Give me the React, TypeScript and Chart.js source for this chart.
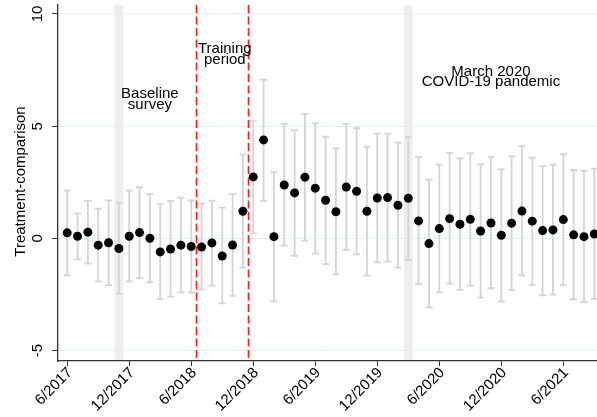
import React, { useEffect, useRef } from "react";
import { Chart, registerables } from "chart.js";

Chart.register(...registerables);

// Monthly estimates, 6/2017 .. 9/2021 (index 0 = 6/2017)
const estimates = [
  0.25, 0.10, 0.28, -0.30, -0.19, -0.45, 0.10, 0.26, 0.01, -0.60, -0.47, -0.30, -0.36, -0.38,
  -0.20, -0.78, -0.29, 1.21, 2.74, 4.39, 0.08, 2.38, 2.03, 2.73, 2.24, 1.70, 1.19,
  2.29, 2.10, 1.21, 1.80, 1.82, 1.48, 1.79, 0.78, -0.23, 0.44, 0.88, 0.63, 0.85, 0.33,
  0.69, 0.14, 0.68, 1.22, 0.77, 0.35, 0.38, 0.84, 0.16, 0.08, 0.20,
];
const ciHigh = [
  2.13, 1.12, 1.67, 1.33, 1.70, 1.60, 2.13, 2.28, 1.97, 1.54, 1.67, 1.82, 1.70, 1.56,
  1.68, 1.37, 1.97, 3.73, 5.23, 7.07, 2.95, 5.11, 4.83, 5.55, 5.13, 4.53, 4.01,
  5.10, 4.91, 4.09, 4.67, 4.67, 4.27, 4.53, 3.62, 2.62, 3.29, 3.81, 3.57, 3.79, 3.30,
  3.63, 3.08, 3.66, 4.11, 3.60, 3.22, 3.29, 3.75, 3.05, 3.01, 3.11,
];
const ciLow = [
  -1.64, -0.93, -1.12, -1.91, -2.08, -2.47, -1.91, -1.77, -1.95, -2.69, -2.59, -2.40, -2.41, -2.27,
  -2.10, -2.89, -2.56, -1.30, 0.23, 1.68, -2.80, -0.32, -0.78, -0.10, -0.68, -1.14, -1.60,
  -0.51, -0.71, -1.66, -1.06, -1.03, -1.30, -0.96, -2.04, -3.07, -2.40, -2.01, -2.29, -2.10, -2.64,
  -2.22, -2.81, -2.29, -1.64, -2.07, -2.53, -2.50, -2.07, -2.71, -2.83, -2.69,
];

const xTickValues = [0, 6, 12, 18, 24, 30, 36, 42, 48];
const xTickLabels = ["6/2017", "12/2017", "6/2018", "12/2018", "6/2019", "12/2019", "6/2020", "12/2020", "6/2021"];
const yTickValues = [-5, 0, 5, 10];
const yTickLabels = ["-5", "0", "5", "10"];
const yTitle = "Treatment-comparison";

// Event markers (month index)
const bandCenters = [5, 33];
const trainingLines = [12.5, 17.5];
const annotations = [
  { lines: ["Baseline", "survey"], x: 8.0, y: 6.2 },
  { lines: ["Training", "period"], x: 15.25, y: 8.2 },
  { lines: ["March 2020", "COVID-19 pandemic"], x: 41.0, y: 7.2 },
];

const FONT = "'Liberation Sans', Arial, sans-serif";

const overlayPlugin = {
  id: "overlay",
  beforeDatasetsDraw(chart: any) {
    const { ctx, chartArea, scales } = chart;
    const { top, bottom, left, right } = chartArea;
    const xs = scales.x;
    const ys = scales.y;
    ctx.save();
    ctx.beginPath();
    ctx.rect(left + 1, top, right - left, bottom - top - 1);
    ctx.clip();

    // grey bands
    ctx.fillStyle = "#eeeeee";
    bandCenters.forEach((c) => {
      const x1 = xs.getPixelForValue(c - 0.43);
      const x2 = xs.getPixelForValue(c + 0.43);
      ctx.fillRect(x1, top, x2 - x1, bottom - top);
    });

    // error bars
    ctx.strokeStyle = "#d4d4d4";
    ctx.lineWidth = 1.8;
    estimates.forEach((_, i) => {
      const px = xs.getPixelForValue(i);
      const yh = ys.getPixelForValue(ciHigh[i]);
      const yl = ys.getPixelForValue(ciLow[i]);
      ctx.beginPath();
      ctx.moveTo(px, yh);
      ctx.lineTo(px, yl);
      ctx.moveTo(px - 3.5, yh);
      ctx.lineTo(px + 3.5, yh);
      ctx.moveTo(px - 3.5, yl);
      ctx.lineTo(px + 3.5, yl);
      ctx.stroke();
    });

    // training period dashed lines
    ctx.strokeStyle = "#ff1a1a";
    ctx.lineWidth = 1.6;
    ctx.setLineDash([8, 3.5]);
    trainingLines.forEach((v) => {
      const px = Math.round(xs.getPixelForValue(v)) + 0.5;
      ctx.beginPath();
      ctx.moveTo(px, top);
      ctx.lineTo(px, bottom);
      ctx.stroke();
    });
    ctx.setLineDash([]);

    // annotation text
    ctx.fillStyle = "#000";
    ctx.font = `15px ${FONT}`;
    ctx.textAlign = "center";
    ctx.textBaseline = "middle";
    annotations.forEach((a) => {
      const cx = xs.getPixelForValue(a.x);
      const cy = ys.getPixelForValue(a.y);
      const gap = 10.5;
      const n = a.lines.length;
      a.lines.forEach((t, k) => {
        ctx.fillText(t, cx, cy + (k - (n - 1) / 2) * gap);
      });
    });
    ctx.restore();
  },
  afterDraw(chart: any) {
    const { ctx, chartArea, scales } = chart;
    const ys = scales.y;
    ctx.save();
    ctx.fillStyle = "#000";
    ctx.font = `15px ${FONT}`;
    ctx.textAlign = "center";
    ctx.textBaseline = "middle";
    yTickValues.forEach((v, i) => {
      const py = ys.getPixelForValue(v);
      ctx.save();
      ctx.translate(38, py);
      ctx.rotate(-Math.PI / 2);
      ctx.fillText(yTickLabels[i], 0, 0);
      ctx.restore();
    });
    ctx.save();
    ctx.translate(21, (chartArea.top + chartArea.bottom) / 2 - 1.5);
    ctx.rotate(-Math.PI / 2);
    ctx.fillText(yTitle, 0, 0);
    ctx.restore();
    ctx.restore();
  },
};

export default function App() {
  const canvasRef = useRef<HTMLCanvasElement | null>(null);

  useEffect(() => {
    document.body.style.margin = "0";
    const canvas = canvasRef.current;
    if (!canvas) return;
    Chart.defaults.font.family = FONT;
    const chart = new Chart(canvas, {
      type: "scatter",
      data: {
        datasets: [
          {
            data: estimates.map((v, i) => ({ x: i, y: v })),
            backgroundColor: "#000",
            borderColor: "#000",
            borderWidth: 0,
            pointRadius: 4.5,
            pointHoverRadius: 4.5,
            clip: false,
          },
        ],
      },
      options: {
        responsive: false,
        animation: false,
        devicePixelRatio: 1,
        layout: { autoPadding: false, padding: { top: 5, right: 0, left: 0, bottom: 0 } },
        plugins: { legend: { display: false }, tooltip: { enabled: false }, title: { display: false } },
        scales: {
          x: {
            type: "linear",
            min: -0.89,
            max: 51.26,
            afterBuildTicks: (scale: any) => {
              scale.ticks = xTickValues.map((v) => ({ value: v }));
            },
            afterFit: (scale: any) => {
              scale.height = 56;
              scale.paddingRight = 0;
              scale.paddingLeft = 0;
            },
            ticks: {
              autoSkip: false,
              minRotation: 45,
              maxRotation: 45,
              padding: -2,
              labelOffset: 3,
              color: "#000",
              font: { size: 15, family: FONT },
              callback: (value: any) => {
                const idx = xTickValues.indexOf(Number(value));
                return idx >= 0 ? xTickLabels[idx] : "";
              },
            },
            grid: {
              display: true,
              drawOnChartArea: false,
              drawTicks: true,
              tickLength: 5,
              tickColor: "#333",
              tickWidth: 1,
            },
            border: { display: true, color: "#333", width: 1.3 },
          },
          y: {
            type: "linear",
            min: -5.46,
            max: 10.4,
            afterBuildTicks: (scale: any) => {
              scale.ticks = yTickValues.map((v) => ({ value: v }));
            },
            afterFit: (scale: any) => {
              scale.width = 58;
              scale.paddingTop = 0;
              scale.paddingBottom = 0;
            },
            ticks: { display: false },
            grid: {
              display: true,
              drawOnChartArea: true,
              drawTicks: true,
              tickLength: 6,
              color: "#e6eeef",
              lineWidth: 1,
              tickColor: "#333",
              tickWidth: 1,
            },
            border: { display: true, color: "#333", width: 1.3 },
          },
        },
      },
      plugins: [overlayPlugin],
    } as any);
    return () => chart.destroy();
  }, []);

  return (
    <div style={{ width: 597, height: 417 }}>
      <canvas ref={canvasRef} width={597} height={417} />
    </div>
  );
}
